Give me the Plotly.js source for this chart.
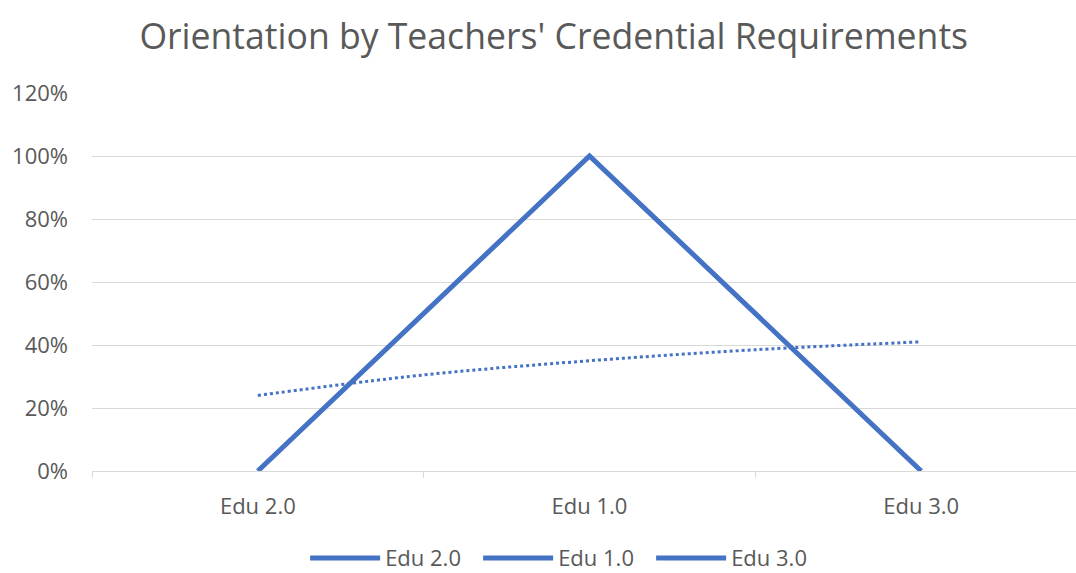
<!DOCTYPE html>
<html><head><meta charset="utf-8">
<script src="https://cdn.plot.ly/plotly-3.0.1.min.js"></script>
<style>html,body{margin:0;padding:0;overflow:hidden;background:#fff;width:1076px;height:573px}#chart{width:1090px;height:573px}</style>
</head><body><div id="chart"></div>
<script>
const categories = ["Edu 2.0", "Edu 1.0", "Edu 3.0"];
const catPos = [0, 1, 2];
const orientation = [0, 1.0, 0];
// dotted trendline at category and mid-category positions
const trendPos = [0, 0.5, 1, 1.5, 2];
const trendVals = [0.24, 0.305, 0.35, 0.385, 0.41];
const legendNames = ["Edu 2.0", "Edu 1.0", "Edu 3.0"];
const boundaries = [-0.5, 0.5, 1.5, 2.5];
const yTicks = [0, 0.2, 0.4, 0.6, 0.8, 1.0, 1.2];

const blue = "#4472C4";
const grey = "#595959";
const font = "Open Sans, Liberation Sans, sans-serif";

const traces = [
  {x: catPos, y: orientation, type: "scatter", mode: "lines", name: legendNames[0],
   line: {color: blue, width: 5}, showlegend: true},
  {x: [null], y: [null], type: "scatter", mode: "lines", name: legendNames[1],
   line: {color: blue, width: 5}, showlegend: true},
  {x: [null], y: [null], type: "scatter", mode: "lines", name: legendNames[2],
   line: {color: blue, width: 5}, showlegend: true},
  {x: trendPos, y: trendVals, type: "scatter", mode: "lines", showlegend: false,
   line: {color: blue, width: 3, dash: "dot", shape: "spline"}},
  {x: boundaries, y: [null, null, null, null], xaxis: "x2", type: "scatter", mode: "lines", showlegend: false, hoverinfo: "skip"}
];

const layout = {
  width: 1090, height: 573,
  margin: {l: 92, r: 3, t: 93, b: 102},
  paper_bgcolor: "#fff", plot_bgcolor: "#fff",
  font: {family: font, color: grey, size: 22},
  title: {text: "Orientation by Teachers' Credential Requirements", font: {family: font, size: 35.6, color: grey},
          x: 0.508, xref: "container", xanchor: "center", y: 0.936, yref: "container", yanchor: "middle"},
  xaxis: {range: [-0.5, 2.5], tickvals: catPos, ticktext: categories, ticks: "", showgrid: false,
          zeroline: false, showline: true, linecolor: "#d9d9d9", linewidth: 1,
          ticklabelstandoff: 16, tickfont: {size: 22, color: grey}},
  xaxis2: {overlaying: "x", range: [-0.5, 2.5], tickvals: boundaries, ticktext: ["", "", "", ""],
           ticks: "outside", ticklen: 6, tickcolor: "#d9d9d9", showgrid: false, zeroline: false,
           showline: false, side: "bottom", anchor: "y"},
  yaxis: {range: [0, 1.2], tickvals: yTicks, tickformat: ".0%", showgrid: true, gridcolor: "#d9d9d9",
          gridwidth: 1, zeroline: false, showline: false, ticks: "", ticklabelstandoff: 23,
          tickfont: {size: 22, color: grey}},
  legend: {orientation: "h", x: 0.475, xanchor: "center", xref: "paper", y: 0.026, yref: "container", yanchor: "middle",
           font: {size: 22, color: grey}, itemwidth: 70, traceorder: "normal",
           entrywidth: 88, entrywidthmode: "pixels"},
  showlegend: true
};
Plotly.newPlot("chart", traces, layout, {displayModeBar: false, staticPlot: true});
</script></body></html>
